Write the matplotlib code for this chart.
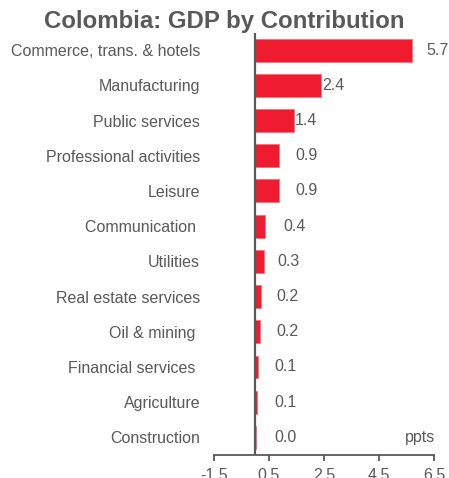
import matplotlib
matplotlib.use("Agg")
import matplotlib.pyplot as plt

plt.rcParams['font.family'] = ['Liberation Sans', 'DejaVu Sans']

sectors = ["Commerce, trans. & hotels", "Manufacturing", "Public services",
           "Professional activities", "Leisure", "Communication ", "Utilities",
           "Real estate services", "Oil & mining ", "Financial services ",
           "Agriculture", "Construction"]
values = [5.7, 2.4, 1.4, 0.85, 0.88, 0.36, 0.3, 0.2, 0.18, 0.1, 0.08, 0.02]
labels = ["5.7", "2.4", "1.4", "0.9", "0.9", "0.4", "0.3", "0.2", "0.2", "0.1", "0.1", "0.0"]
xticks = [-1.5, 0.5, 2.5, 4.5, 6.5]

# where the value labels sit (data x of label centre)
label_x = [6.62, 2.83, 1.85, 1.85, 1.85, 1.42, 1.2, 1.17, 1.17, 1.1, 1.1, 1.1]

red = "#EE1C2E"
grey = "#595959"

fig = plt.figure(figsize=(4.49, 4.78), dpi=100)
ax = fig.add_axes([214/449, 23/478, 220/449, (455-32.5)/478])

y = list(range(len(sectors)))
ax.barh(y, values, height=0.65, color=red, edgecolor="#F4707B", linewidth=0.6)
for yi, lx, lab in zip(y, label_x, labels):
    ax.text(lx, yi, lab, ha="center", va="center", fontsize=11.5, color=grey)

ax.axvline(0, color="#595959", lw=1.6, zorder=3)
ax.set_xlim(-1.5, 6.5)
ax.set_ylim(11.5, -0.5)
ax.set_xticks(xticks)
ax.set_xticklabels(["-1.5", "0.5", "2.5", "4.5", "6.5"])
ax.set_yticks(y)
ax.set_yticklabels(sectors)
for s in ["top", "right", "left"]:
    ax.spines[s].set_visible(False)
ax.spines["bottom"].set_color(grey)
ax.spines["bottom"].set_linewidth(1.3)
ax.tick_params(axis="x", colors=grey, labelsize=11.5, length=4, width=1.3,
               direction="out", pad=5.5)
ax.tick_params(axis="y", length=0, labelsize=11.5, labelcolor=grey, pad=10)

ax.text(6.0, 11, "ppts", ha="center", va="center", fontsize=11.5, color=grey)

fig.text(0.5, 0.955, "Colombia: GDP by Contribution", ha="center", va="center",
         fontsize=17.3, fontweight="bold", color=grey)

fig.savefig("out.png", dpi=100)
